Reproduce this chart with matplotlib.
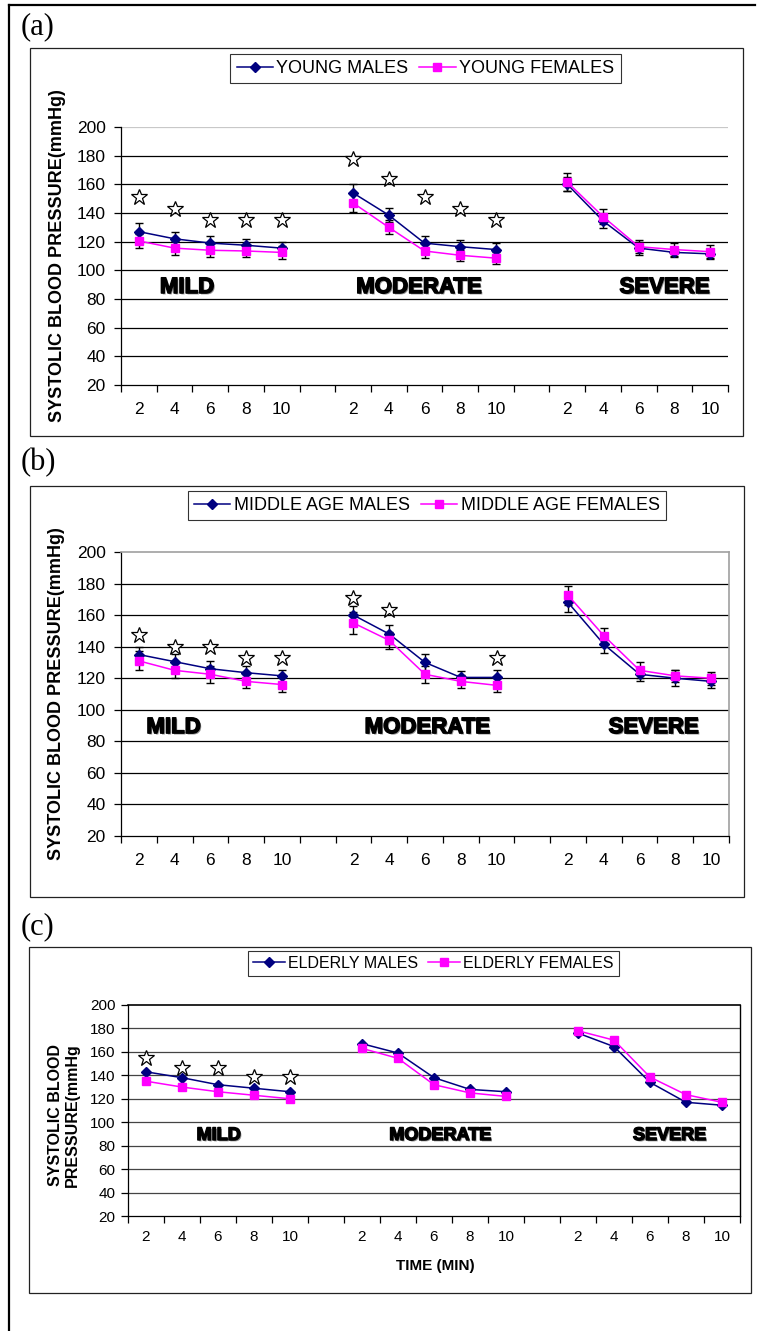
import matplotlib
matplotlib.use('Agg')
import matplotlib.pyplot as plt
import matplotlib.patheffects as pe
from matplotlib.patches import Rectangle
from matplotlib.lines import Line2D
import numpy as np

plt.rcParams['font.family'] = ['Liberation Sans', 'DejaVu Sans']

W, H, DPI = 759, 1331, 100

# ---------------- data ----------------
minute_labels = ['2', '4', '6', '8', '10']
severity_names = ['MILD', 'MODERATE', 'SEVERE']

# (a) young
young_males_mild = [127, 122, 119, 117.5, 115.5]
young_males_moderate = [154, 138.5, 119, 116.5, 114.5]
young_males_severe = [160, 134.5, 115.5, 112.5, 111.5]
young_males_mild_err = [6, 5, 5, 4.5, 4.5]
young_males_moderate_err = [6, 5, 5, 4.5, 4.5]
young_males_severe_err = [5, 5, 4.5, 3.5, 3]
young_females_mild = [120.5, 115.5, 114, 113.5, 112.5]
young_females_moderate = [147, 130, 113.5, 110.5, 108.5]
young_females_severe = [161.5, 137.5, 116.5, 114.5, 113]
young_females_mild_err = [5, 5, 5, 4.5, 4.5]
young_females_moderate_err = [6, 5, 5, 4, 4]
young_females_severe_err = [6.5, 5, 4.5, 4.5, 5]
young_stars_mild = [151, 143, 135, 135, 135]
young_stars_moderate = [178, 164, 151, 143, 135]
young_stars_severe = [None, None, None, None, None]

# (b) middle age
middle_males_mild = [135, 130.5, 126, 123.5, 121.5]
middle_males_moderate = [160, 148, 130, 120.5, 120.5]
middle_males_severe = [168, 141.5, 122.5, 120, 118]
middle_males_mild_err = [5, 5, 5, 4.5, 4]
middle_males_moderate_err = [6, 6, 5.5, 4, 4.5]
middle_males_severe_err = [6, 5.5, 4, 5, 4.5]
middle_females_mild = [131, 125, 122.5, 118, 116]
middle_females_moderate = [155, 144, 122.5, 118, 115.5]
middle_females_severe = [172.5, 147, 125, 121.5, 120]
middle_females_mild_err = [6, 5, 5.5, 4.5, 4.5]
middle_females_moderate_err = [7, 5.5, 5.5, 4, 4.5]
middle_females_severe_err = [6, 5, 5, 4, 4]
middle_stars_mild = [147.5, 140, 140, 133, 133]
middle_stars_moderate = [171, 163.5, None, None, 133]
middle_stars_severe = [None, None, None, None, None]

# (c) elderly
elderly_males_mild = [143, 138, 132, 129, 126]
elderly_males_moderate = [167, 159, 138, 128, 126]
elderly_males_severe = [176, 164.5, 134, 117, 114.5]
elderly_females_mild = [135, 130, 126, 123, 120]
elderly_females_moderate = [163, 154.5, 132, 125, 122]
elderly_females_severe = [178, 170, 138.5, 123.5, 117]
elderly_stars_mild = [155, 146.5, 146.5, 138.5, 138.5]
elderly_stars_moderate = [None, None, None, None, None]
elderly_stars_severe = [None, None, None, None, None]

# ---------------- layout helpers ----------------
group_starts = [0, 6, 12]
n_cat = 17

fig = plt.figure(figsize=(W / DPI, H / DPI), dpi=DPI)
fig.patch.set_facecolor('white')


def fx(px):
    return px / W


def fy(py):
    return 1 - py / H


# outer frame (top and left)
fig.add_artist(Line2D([fx(9), fx(755)], [fy(5), fy(5)], color='black', lw=1.6))
fig.add_artist(Line2D([fx(9), fx(9)], [fy(5), fy(1331)], color='black', lw=1.6))


def panel_box(l, t, r, b):
    fig.add_artist(Rectangle((fx(l), fy(b)), fx(r) - fx(l), fy(t) - fy(b),
                             fill=False, edgecolor='#222222', lw=0.9))


def make_axes(l, t, r, b, tick_fs, xpad, ypad, style):
    ax = fig.add_axes([fx(l), fy(b), fx(r) - fx(l), fy(t) - fy(b)])
    ax.set_facecolor('none')
    ax.set_xlim(-0.5, n_cat - 0.5)
    ax.set_ylim(20, 200)
    ax.set_yticks(np.arange(20, 201, 20))
    ax.tick_params(axis='y', direction='out', length=5, width=0.9,
                   labelsize=tick_fs, pad=ypad)
    ax.set_xticks(np.arange(-0.5, n_cat, 1.0))
    ax.set_xticklabels([])
    ax.tick_params(axis='x', which='major', direction='out', length=5, width=0.9)
    centers = []
    labels = []
    for s in group_starts:
        for i, m in enumerate(minute_labels):
            centers.append(s + i)
            labels.append(m)
    ax.set_xticks(centers, minor=True)
    ax.set_xticklabels(labels, minor=True)
    ax.tick_params(axis='x', which='minor', length=0, labelsize=tick_fs, pad=xpad)
    for v in range(40, 200, 20):
        ax.axhline(v, color='black' if style != 'c' else '#444444', lw=0.9, zorder=0)
    for sp in ['left', 'bottom']:
        ax.spines[sp].set_color('black')
        ax.spines[sp].set_linewidth(0.9)
    if style == 'a':
        ax.axhline(200, color='#c8c8c8', lw=0.9, zorder=0)
        ax.spines['top'].set_visible(False)
        ax.spines['right'].set_visible(False)
    elif style == 'b':
        ax.spines['top'].set_color('#a0a0a0')
        ax.spines['right'].set_color('#a0a0a0')
        ax.spines['top'].set_linewidth(1.2)
        ax.spines['right'].set_linewidth(1.2)
    else:
        ax.spines['top'].set_color('black')
        ax.spines['right'].set_color('black')
        ax.spines['top'].set_linewidth(1.2)
        ax.spines['right'].set_linewidth(1.0)
    return ax


def plot_series(ax, groups, errs, color, marker, ms, label):
    first = True
    for gi, s in enumerate(group_starts):
        xs = s + np.arange(len(groups[gi]))
        ax.plot(xs, groups[gi], color=color, lw=1.1, marker=marker, ms=ms,
                mec=color, mfc=color, zorder=3, label=label if first else None)
        if errs is not None:
            ax.errorbar(xs, groups[gi], yerr=errs[gi], fmt='none', ecolor='black',
                        elinewidth=1.0, capsize=3, capthick=1.0, zorder=2)
        first = False


def plot_stars(ax, groups):
    for gi, s in enumerate(group_starts):
        for i, v in enumerate(groups[gi]):
            if v is not None:
                ax.plot([s + i], [v], marker='*', ms=12, mfc='white', mec='black',
                        mew=0.9, ls='none', zorder=4)


cat_effects = [pe.SimplePatchShadow(offset=(1.0, -1.0), shadow_rgbFace='#777777', alpha=0.8),
               pe.withStroke(linewidth=1.1, foreground='black')]


def severity_labels(ax, xs, y, fs):
    for name, x in zip(severity_names, xs):
        ax.text(x, y, name, ha='center', va='center', fontsize=fs,
                family=['Liberation Sans'], fontweight='bold',
                color='black', path_effects=cat_effects, zorder=5)


NAVY = '#000080'
MAG = '#ff00ff'

# ---------------- panel (a) ----------------
fig.text(fx(21), fy(27), '(a)', family='Liberation Serif', fontsize=22, ha='left', va='center')
panel_box(30, 48, 743, 436)
axa = make_axes(121, 127, 728, 385, 12.5, 12, 6, 'a')
plot_series(axa, [young_males_mild, young_males_moderate, young_males_severe],
            [young_males_mild_err, young_males_moderate_err, young_males_severe_err],
            NAVY, 'D', 5.5, 'YOUNG MALES')
plot_series(axa, [young_females_mild, young_females_moderate, young_females_severe],
            [young_females_mild_err, young_females_moderate_err, young_females_severe_err],
            MAG, 's', 6, 'YOUNG FEMALES')
plot_stars(axa, [young_stars_mild, young_stars_moderate, young_stars_severe])
severity_labels(axa, [1.35, 7.85, 14.73], 88, 16)
fig.text(fx(58), fy(256), 'SYSTOLIC BLOOD PRESSURE(mmHg)', rotation=90, fontsize=13,
         fontweight='bold', ha='center', va='center')
lg = fig.legend(*axa.get_legend_handles_labels(), loc='center',
                bbox_to_anchor=(fx(425.5), fy(68.5)), ncol=2, fontsize=13,
                frameon=True, fancybox=False, edgecolor='black', handlelength=2.0,
                handletextpad=0.2, columnspacing=0.6, borderpad=0.35)
lg.get_frame().set_linewidth(0.8)

# ---------------- panel (b) ----------------
fig.text(fx(21), fy(463), '(b)', family='Liberation Serif', fontsize=22, ha='left', va='center')
panel_box(30, 486, 744, 897)
axb = make_axes(121, 552, 729, 836, 12.5, 12, 6, 'b')
plot_series(axb, [middle_males_mild, middle_males_moderate, middle_males_severe],
            [middle_males_mild_err, middle_males_moderate_err, middle_males_severe_err],
            NAVY, 'D', 5.5, 'MIDDLE AGE MALES')
plot_series(axb, [middle_females_mild, middle_females_moderate, middle_females_severe],
            [middle_females_mild_err, middle_females_moderate_err, middle_females_severe_err],
            MAG, 's', 6, 'MIDDLE AGE FEMALES')
plot_stars(axb, [middle_stars_mild, middle_stars_moderate, middle_stars_severe])
severity_labels(axb, [0.97, 8.07, 14.4], 88.7, 16)
fig.text(fx(57), fy(694), 'SYSTOLIC BLOOD PRESSURE(mmHg)', rotation=90, fontsize=13,
         fontweight='bold', ha='center', va='center')
lg = fig.legend(*axb.get_legend_handles_labels(), loc='center',
                bbox_to_anchor=(fx(427), fy(505.5)), ncol=2, fontsize=13,
                frameon=True, fancybox=False, edgecolor='black', handlelength=2.0,
                handletextpad=0.2, columnspacing=0.6, borderpad=0.35)
lg.get_frame().set_linewidth(0.8)

# ---------------- panel (c) ----------------
fig.text(fx(21), fy(927), '(c)', family='Liberation Serif', fontsize=22, ha='left', va='center')
panel_box(29, 947, 751, 1293)
axc = make_axes(128, 1005, 740, 1216, 11, 10, 4, 'c')
plot_series(axc, [elderly_males_mild, elderly_males_moderate, elderly_males_severe],
            None, NAVY, 'D', 5, 'ELDERLY MALES')
plot_series(axc, [elderly_females_mild, elderly_females_moderate, elderly_females_severe],
            None, MAG, 's', 5.5, 'ELDERLY FEMALES')
plot_stars(axc, [elderly_stars_mild, elderly_stars_moderate, elderly_stars_severe])
severity_labels(axc, [2.02, 8.18, 14.55], 88.7, 13)
fig.text(fx(64), fy(1115), 'SYSTOLIC BLOOD\nPRESSURE(mmHg', rotation=90, fontsize=11.5,
         fontweight='bold', ha='center', va='center', linespacing=1.15)
fig.text(fx(435), fy(1266), 'TIME (MIN)', fontsize=11, fontweight='bold',
         ha='center', va='center')
lg = fig.legend(*axc.get_legend_handles_labels(), loc='center',
                bbox_to_anchor=(fx(433.5), fy(963.5)), ncol=2, fontsize=11.5,
                frameon=True, fancybox=False, edgecolor='black', handlelength=2.0,
                handletextpad=0.2, columnspacing=0.6, borderpad=0.3)
lg.get_frame().set_linewidth(0.8)

fig.savefig('out.png', dpi=DPI, facecolor='white')
